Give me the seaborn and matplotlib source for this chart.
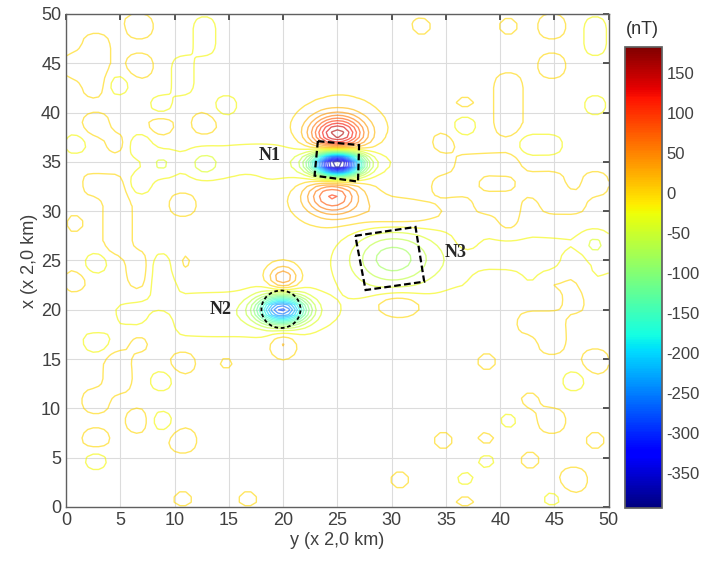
import numpy as np
import matplotlib
matplotlib.use("Agg")
import matplotlib.pyplot as plt
from matplotlib.patches import Polygon, Ellipse
from matplotlib.colors import Normalize
import matplotlib.cm as cm
import seaborn as sns

# survey grid (units of 2,0 km)
grid_y = np.arange(0, 50.01, 0.5)
grid_x = np.arange(0, 50.01, 0.5)

# regional level and residual noise (2-unit cells, top row = x 50)
# '+' / 'o' : positive blotch (large / small), '-' / 'm' : negative blotch (large / small)
base_nt = -6.0
noise_nt = 21.0
noise_rows = [
    "..o............o..........",
    "...+..-.........o...o.+.-.",
    ".+....-.................-.",
    "++.+.-................+...",
    ".+-..-..............+.....",
    "....-..-..........o.+...-.",
    ".+..+.+...........-.+.....",
    "-.+-.............+...--...",
    "o...-.-...........+++.....",
    ".++-....o........++..++.+.",
    "..+..+.............++.++..",
    "o.+.................+.....",
    "..+...............o.....-.",
    ".-.+-o.................+..",
    "+..+-..............++.++..",
    ".......................+..",
    ".+..+................++...",
    ".-.+..................+...",
    "..+..+.o...........o....+.",
    "..+.-..................-..",
    ".+...................o....",
    "...+-...............m.+...",
    ".+...+...........o.o....o.",
    ".-.................m.o....",
    "...............o..m....+..",
    ".....o..o.........o...m...",
]

# anomaly components: centre (y, x), amplitude (nT), half widths
comp_name = ["N1 core", "N1 north", "N1 south", "N1 halo", "N1 tail",
             "N2 core", "N2 north", "N2 south", "N2 tail",
             "N3 core", "N3 north", "N3 south", "N3 tail"]
comp_y = [25.0, 25.0, 24.5, 25.5, 20.0, 19.9, 20.0, 20.0, 14.0, 30.0, 30.5, 30.5, 42.0]
comp_x = [34.8, 37.8, 31.5, 34.8, 35.0, 20.0, 23.2, 16.5, 19.5, 25.2, 29.6, 20.5, 25.0]
comp_amp = [-410, 170, 100, 17, -28, -260, 70, 34, -26, -75, 32, 36, -22]
comp_sy = [1.6, 1.7, 1.7, 2.8, 9.0, 1.6, 0.95, 0.85, 9.0, 2.8, 2.8, 1.6, 10.0]
comp_sx = [0.9, 1.3, 1.3, 4.2, 1.6, 1.0, 0.9, 0.9, 2.0, 2.2, 1.0, 0.9, 2.5]

# interpreted bodies
n1_box_y = [23.2, 27.0, 26.9, 22.9]
n1_box_x = [37.1, 36.7, 33.0, 33.6]
n3_box_y = [26.65, 32.2, 33.0, 27.6]
n3_box_x = [27.5, 28.4, 22.85, 22.0]
n2_centre = (19.8, 20.05)
n2_size = (3.6, 3.8)
label_text = ["N1", "N2", "N3"]
label_y = [18.75, 14.2, 35.9]
label_x = [35.6, 20.0, 25.8]

levels = np.arange(-380, 181, 20)
cbar_min, cbar_max = -394, 183
cbar_ticks = np.arange(-350, 151, 50)

# field
Y, X = np.meshgrid(grid_y, grid_x)
field = np.full(Y.shape, base_nt)
for yc, xc, a, sy, sx in zip(comp_y, comp_x, comp_amp, comp_sy, comp_sx):
    field += a * np.exp(-((Y - yc) ** 2 / (2 * sy ** 2) + (X - xc) ** 2 / (2 * sx ** 2)))

code = {".": 0.0, "+": 1.0, "o": 0.5, "-": -1.4, "m": -1.05}
noise = np.array([[code[ch] for ch in row.ljust(26, ".")[:26]] for row in noise_rows])[::-1]
noise = np.kron(noise, np.ones((4, 4)))[:len(grid_x), :len(grid_y)]
k = np.ones(3) / 3
for _ in range(2):
    noise = np.apply_along_axis(lambda v: np.convolve(v, k, mode="same"), 0, noise)
    noise = np.apply_along_axis(lambda v: np.convolve(v, k, mode="same"), 1, noise)
field += noise_nt * noise

sns.set_theme(style="white")
plt.rcParams["font.family"] = ["Liberation Sans", "DejaVu Sans"]
plt.rcParams["axes.unicode_minus"] = False

fig = plt.figure(figsize=(7.07, 5.65), dpi=100)
ax = fig.add_axes([0.0934, 0.1027, 0.7676, 0.8726])
cax = fig.add_axes([0.884, 0.1009, 0.052, 0.8161])

norm = Normalize(cbar_min, cbar_max)
ax.contour(Y, X, field, levels=levels, cmap="jet", norm=norm, linewidths=1.0, alpha=0.62)

ax.add_patch(Polygon(np.column_stack([n1_box_y, n1_box_x]), closed=True, fill=False,
                     edgecolor="black", lw=1.6, linestyle=(0, (3, 1.5)), zorder=5))
ax.add_patch(Polygon(np.column_stack([n3_box_y, n3_box_x]), closed=True, fill=False,
                     edgecolor="black", lw=1.6, linestyle=(0, (3, 1.5)), zorder=5))
ax.add_patch(Ellipse(n2_centre, n2_size[0], n2_size[1], fill=False, edgecolor="black",
                     lw=1.3, linestyle=(0, (2, 1.5)), zorder=5))
for t, ly, lx in zip(label_text, label_y, label_x):
    ax.text(ly, lx, t, fontsize=13, fontweight="bold", family=["Liberation Serif", "DejaVu Serif"],
            ha="center", va="center", zorder=6)

ax.set_xlim(0, 50)
ax.set_ylim(0, 50)
ax.set_xticks(np.arange(0, 51, 5))
ax.set_yticks(np.arange(0, 51, 5))
ax.grid(True, color="#dcdcdc", lw=0.8)
ax.set_axisbelow(True)
ax.tick_params(direction="in", top=True, right=True, labelsize=13, labelcolor="#404040",
               color="#404040", length=4)
for s in ax.spines.values():
    s.set_color("#606060")
    s.set_linewidth(1.0)
ax.set_xlabel("y (x 2,0 km)", fontsize=13, color="#404040", labelpad=2)
ax.set_ylabel("x (x 2,0 km)", fontsize=13, color="#404040", labelpad=2)

sm = cm.ScalarMappable(norm=norm, cmap="jet")
cb = fig.colorbar(sm, cax=cax, ticks=cbar_ticks)
cb.ax.tick_params(labelsize=12, direction="in", length=3, labelcolor="#404040")
cb.outline.set_edgecolor("#606060")
fig.text(0.909, 0.947, "(nT)", fontsize=13, color="#303030", ha="center", va="center")

fig.savefig("out.png", dpi=100)
